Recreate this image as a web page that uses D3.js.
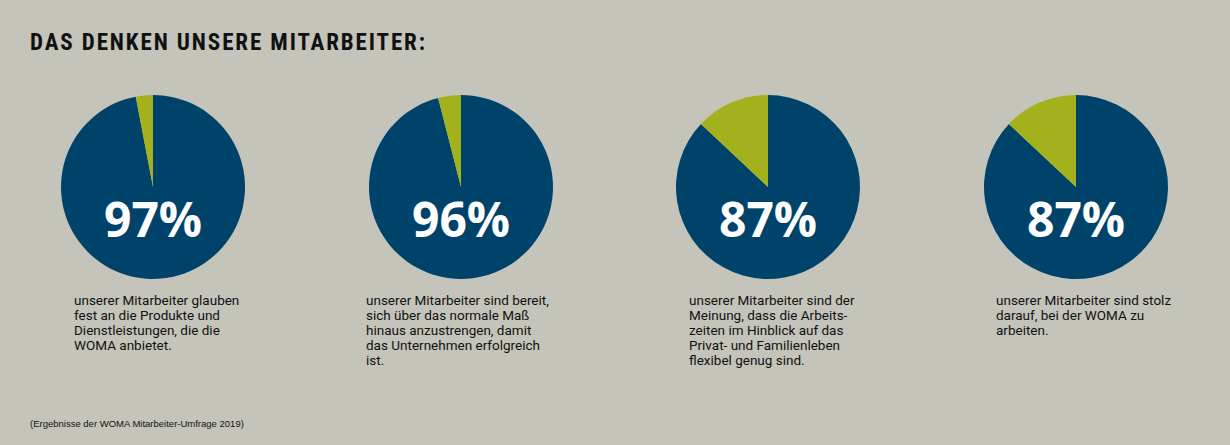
<!DOCTYPE html>
<html><head><meta charset="utf-8">
<script src="https://cdn.jsdelivr.net/npm/d3@7"></script>
<style>body{margin:0;background:#c5c4ba}</style></head>
<body><svg id="c" width="1230" height="445"></svg>
<script>
const values=[97,96,87,87];
const labels=["97%","96%","87%","87%"];
const captions=[
["unserer Mitarbeiter glauben","fest an die Produkte und","Dienstleistungen, die die","WOMA anbietet."],
["unserer Mitarbeiter sind bereit,","sich über das normale Maß","hinaus anzustrengen, damit","das Unternehmen erfolgreich","ist."],
["unserer Mitarbeiter sind der","Meinung, dass die Arbeits-","zeiten im Hinblick auf das","Privat- und Familienleben","flexibel genug sind."],
["unserer Mitarbeiter sind stolz","darauf, bei der WOMA zu","arbeiten."]];
const centersX=[153,461,768,1076];
const captionX=[74,366,689,996];
const svg=d3.select("#c");
svg.append("rect").attr("width",1230).attr("height",445).attr("fill","#c5c4ba");
svg.append("text").attr("x",30).attr("y",50).text("DAS DENKEN UNSERE MITARBEITER:")
 .attr("font-family","Roboto Condensed, Liberation Sans Narrow, Roboto, sans-serif").attr("font-weight","bold").attr("font-size",23).attr("fill","#111").attr("textLength",395);
const arc=d3.arc().innerRadius(0).outerRadius(92);
const pie=d3.pie().sort(null).value(d=>d);
values.forEach((v,i)=>{
 const g=svg.append("g").attr("transform",`translate(${centersX[i]},187)`);
 g.selectAll("path").data(pie([v,100-v])).join("path").attr("d",arc)
  .attr("fill",(d,j)=>j?"#a3b11d":"#00436a");
 g.append("text").attr("y",50).attr("text-anchor","middle").text(labels[i])
  .attr("font-family","Open Sans, sans-serif").attr("font-weight","bold").attr("font-size",48).attr("fill","#fff");
 const t=svg.append("text").attr("font-family","Liberation Sans Narrow, Roboto, sans-serif").attr("font-size",13.5).attr("fill","#111");
 captions[i].forEach((l,k)=>t.append("tspan").attr("x",captionX[i]).attr("y",305+k*15).text(l));
});
svg.append("text").attr("x",30).attr("y",427).text("(Ergebnisse der WOMA Mitarbeiter-Umfrage 2019)")
 .attr("font-family","Liberation Sans Narrow, sans-serif").attr("font-size",9.5).attr("fill","#111");
</script></body></html>
